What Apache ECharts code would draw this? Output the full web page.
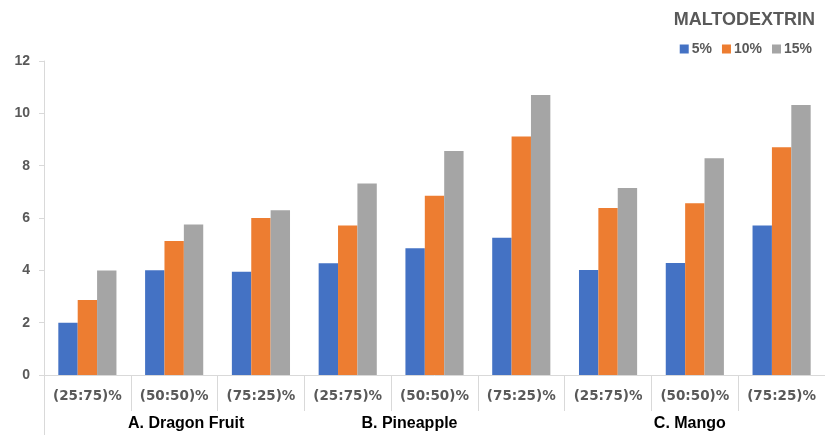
<!DOCTYPE html>
<html>
<head>
<meta charset="utf-8">
<script src="https://cdn.jsdelivr.net/npm/echarts@6/dist/echarts.min.js"></script>
<style>
  html, body { margin: 0; padding: 0; background: #fff; }
  #chart { width: 825px; height: 435px; }
</style>
</head>
<body>
<div id="chart"></div>
<script>
// Blend ratios (inner axis) and fruits (outer axis)
const ratios = ['(25:75)%', '(50:50)%', '(75:25)%', '(25:75)%', '(50:50)%', '(75:25)%', '(25:75)%', '(50:50)%', '(75:25)%'];
const fruits = ['A. Dragon Fruit', 'B. Pineapple', 'C. Mango'];
const seriesNames = ['5%', '10%', '15%'];
const yTicks = [0, 2, 4, 6, 8, 10, 12];

// Maltodextrin concentration series
const md5 = [2.0, 4.0, 3.95, 4.27, 4.84, 5.25, 4.01, 4.28, 5.71];
const md10 = [2.87, 5.12, 6.0, 5.71, 6.85, 9.11, 6.38, 6.56, 8.70];
const md15 = [3.99, 5.75, 6.3, 7.32, 8.56, 10.70, 7.15, 8.28, 10.32];

const colors = ['#4472C4', '#ED7D31', '#A5A5A5'];
const axisGray = '#D9D9D9';
const textGray = '#595959';

// horizontal nudge (px) of each fruit label from its group centre
const fruitShift = [12, -25, -5];
const fruitData = fruits.map((name, i) => {
  const s = fruitShift[i];
  return {
    value: name,
    textStyle: { padding: s >= 0 ? [0, 0, 0, 2 * s] : [0, -2 * s, 0, 0] }
  };
});

const chart = echarts.init(document.getElementById('chart'));
chart.setOption({
  animation: false,
  color: colors,
  title: {
    text: 'MALTODEXTRIN',
    right: 5,
    top: 6,
    textStyle: { fontFamily: 'Liberation Sans', fontWeight: 'bold', fontSize: 18, color: textGray }
  },
  legend: {
    data: seriesNames,
    right: 8,
    top: 37,
    itemWidth: 9,
    itemHeight: 9,
    itemGap: 10,
    icon: 'rect',
    textStyle: { fontFamily: 'Liberation Sans', fontWeight: 'bold', fontSize: 14, color: textGray, padding: [0, 0, 0, -2] }
  },
  grid: { left: 44, right: -8, top: 61, bottom: 60, containLabel: false },
  xAxis: [
    {
      type: 'category',
      data: ratios,
      axisLine: { lineStyle: { color: axisGray } },
      axisTick: { show: true, length: 36, lineStyle: { color: axisGray } },
      axisLabel: { interval: 0, fontFamily: 'DejaVu Sans', fontWeight: 'bold', fontSize: 13.5, color: textGray, margin: 14 }
    },
    {
      type: 'category',
      data: fruitData,
      position: 'bottom',
      axisLine: { show: false },
      // only the outer left edge runs down past the group labels
      axisTick: { show: true, length: 62, interval: (i) => i === 0, lineStyle: { color: axisGray } },
      axisLabel: { interval: 0, fontFamily: 'Liberation Sans', fontWeight: 'bold', fontSize: 16, color: '#000', margin: 41 }
    }
  ],
  yAxis: {
    type: 'value',
    min: yTicks[0],
    max: yTicks[yTicks.length - 1],
    interval: 2,
    axisLine: { show: true, lineStyle: { color: axisGray } },
    axisTick: { show: true, length: 5, lineStyle: { color: axisGray } },
    splitLine: { show: false },
    axisLabel: { fontFamily: 'Liberation Sans', fontWeight: 'bold', fontSize: 14, color: textGray, margin: 14 }
  },
  series: [
    { name: seriesNames[0], type: 'bar', data: md5, barGap: '0%', barCategoryGap: '33%' },
    { name: seriesNames[1], type: 'bar', data: md10, barGap: '0%', barCategoryGap: '33%' },
    { name: seriesNames[2], type: 'bar', data: md15, barGap: '0%', barCategoryGap: '33%' }
  ]
});
</script>
</body>
</html>
